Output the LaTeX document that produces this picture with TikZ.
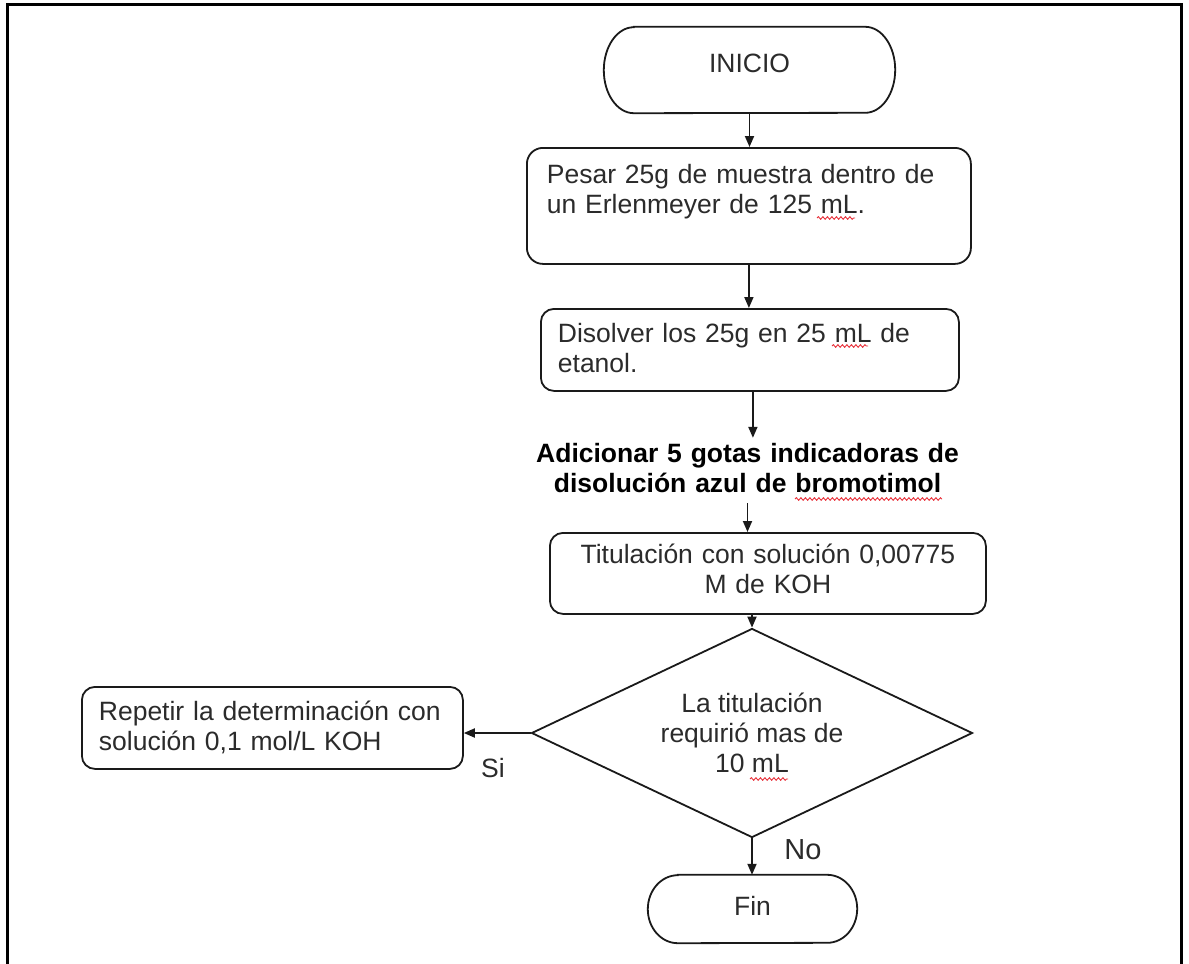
\documentclass[tikz,border=0pt]{standalone}
\usepackage{fontspec}
\setmainfont{Liberation Sans}
\usetikzlibrary{arrows.meta,shapes.geometric,decorations.pathmorphing,calc}
\definecolor{ink}{HTML}{1A1A1A}
\definecolor{txt}{HTML}{2B2B2B}
\definecolor{squigred}{HTML}{E8303A}
\begin{document}
\begin{tikzpicture}[x=1pt,y=-1pt,
  every node/.style={font=\fontsize{26.5}{30}\selectfont, text=txt},
  edgeline/.style={draw=ink, line width=1.8pt},
  flow/.style={edgeline, -{Triangle[length=11pt,width=9pt]}},
  procbox/.style={edgeline, rounded corners=13pt, anchor=north west, inner ysep=0pt, align=left},
  terminal/.style={inner sep=0pt},
  squig/.style={draw=squigred, line width=0.9pt, decorate,
                decoration={snake, amplitude=1.3pt, segment length=4.5pt}},
  frameline/.style={draw=black, line width=3pt},
]
\useasboundingbox (0,0) rectangle (1189,964);
\fill[white] (0,0) rectangle (1189,964);

% page frame, open at the bottom
\draw[frameline] (7,966) -- (7,4) -- (1181,4) -- (1181,966);

% start terminal
\node[terminal, minimum width=291pt, minimum height=86pt, text height=19pt, text depth=15pt] (ini) at (749.5,70) {INICIO};
\draw[edgeline] ([xshift=30pt]ini.north west) -- ([xshift=-30pt]ini.north east)
  arc[start angle=90, end angle=-90, x radius=30pt, y radius=43pt]
  -- ([xshift=30pt]ini.south west)
  arc[start angle=270, end angle=90, x radius=30pt, y radius=43pt] -- cycle;

% process steps
\node[procbox, rounded corners=16pt, inner xsep=20pt, text width=404pt, text height=36pt, text depth=80pt] (weigh) at (526,147)
  {Pesar 25g de muestra dentro de\\un Erlenmeyer de 125 mL.};

\node[procbox, inner xsep=17pt, text width=384pt, text height=34pt, text depth=48pt] (dissolve) at (540,308)
  {Disolver los 25g en 25 mL de\\etanol.};

\node[font=\bfseries\fontsize{26.5}{30}\selectfont, text=black, text width=440pt, align=center, anchor=base,
      inner xsep=0pt, inner ysep=5pt, text height=19pt, text depth=36pt] (drops) at (747.5,462)
  {Adicionar 5 gotas indicadoras de\\disolución azul de bromotimol};

\node[procbox, align=center, inner xsep=10pt, text width=416pt, text height=31pt, text depth=50pt] (titrate) at (549,532)
  {Titulación con solución 0,00775\\M de KOH};

% decision
\node[diamond, edgeline, aspect=2.11, minimum width=441pt, minimum height=209pt, inner sep=0pt, align=center] (check) at (752,733)
  {La titulación\\requirió mas de\\10 mL};

\node[procbox, inner xsep=17pt, text width=347pt, text height=34pt, text depth=48pt] (repeat) at (81,686)
  {Repetir la determinación con\\solución 0,1 mol/L KOH};

% end terminal
\node[terminal, minimum width=209pt, minimum height=68pt, text height=18pt, text depth=6pt] (fin) at (752.5,909) {Fin};
\draw[edgeline] ([xshift=30pt]fin.north west) -- ([xshift=-30pt]fin.north east)
  arc[start angle=90, end angle=-90, x radius=30pt, y radius=34pt]
  -- ([xshift=30pt]fin.south west)
  arc[start angle=270, end angle=90, x radius=30pt, y radius=34pt] -- cycle;

% branch labels
\node (yes) at (493,768) {Si};
\node[font=\fontsize{29}{34}\selectfont] (no) at (803,850) {No};

% connectors
\draw[flow] (ini.south) -- (ini.south |- weigh.north);
\draw[flow] (weigh.south) -- (weigh.south |- dissolve.north);
\draw[flow] ([xshift=3pt]dissolve.south) -- ([xshift=3pt]dissolve.south |- drops.north);
\draw[flow] (drops.south) -- (drops.south |- titrate.north);
\draw[flow] (titrate.south -| check.north) -- (check.north);
\draw[flow] (check.west) -- (check.west -| repeat.east);
\draw[flow] (check.south) -- (check.south |- fin.north);

% spell-check underlines
\draw[squig] (817,218) -- (855,218);
\draw[squig] (832,346) -- (868,346);
\draw[squig] (795,499) -- (942,499);
\draw[squig] (750,779) -- (788,779);
\end{tikzpicture}
\end{document}
